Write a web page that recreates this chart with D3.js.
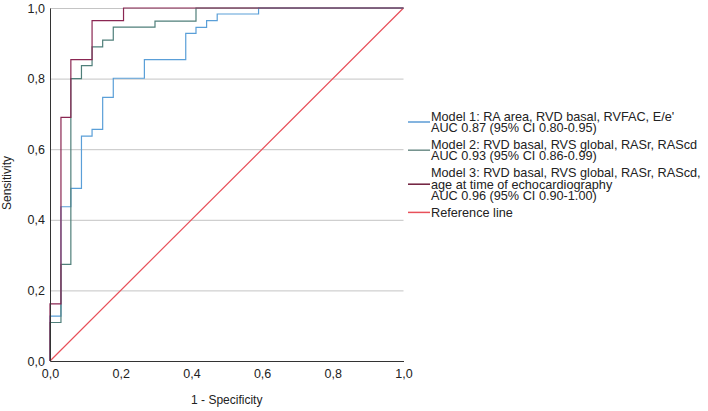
<!DOCTYPE html>
<html>
<head>
<meta charset="utf-8">
<script src="https://cdn.jsdelivr.net/npm/d3@7"></script>
<style>
  body { margin: 0; background: #fff; }
  text { font-family: "Liberation Sans", Arial, sans-serif; fill: #222; }
</style>
</head>
<body>
<svg width="708" height="411"></svg>
<script>
// ROC step points (1 - specificity, sensitivity)
const model1Fpr = [0, 0.031, 0.059, 0.089, 0.119, 0.149, 0.179, 0.267, 0.384, 0.413, 0.443, 0.473, 0.590, 1];
const model1Tpr = [0, 0.127, 0.437, 0.489, 0.637, 0.656, 0.747, 0.801, 0.854, 0.928, 0.945, 0.964, 0.983, 1];

const model2Fpr = [0, 0.031, 0.059, 0.089, 0.119, 0.149, 0.179, 0.297, 0.413, 1];
const model2Tpr = [0, 0.109, 0.274, 0.800, 0.837, 0.890, 0.909, 0.946, 0.963, 1];

const model3Fpr = [0, 0.031, 0.059, 0.119, 0.208, 1];
const model3Tpr = [0, 0.162, 0.690, 0.854, 0.964, 1];

const refFpr = [0, 1];
const refTpr = [0, 1];

const tickValues = [0, 0.2, 0.4, 0.6, 0.8, 1.0];

const legendLabels = [
    ["Model 1: RA area, RVD basal, RVFAC, E/e'", "AUC 0.87 (95% CI 0.80-0.95)"],
    ["Model 2: RVD basal, RVS global, RASr, RAScd", "AUC 0.93 (95% CI 0.86-0.99)"],
    ["Model 3: RVD basal, RVS global, RASr, RAScd,", "age at time of echocardiography", "AUC 0.96 (95% CI 0.90-1.00)"],
    ["Reference line"]
];

const series = [
    { fpr: model1Fpr, tpr: model1Tpr, color: "#5a9fd8", legend: "#5b9bd5" },
    { fpr: model2Fpr, tpr: model2Tpr, color: "#4f7f7a", legend: "#6f8f8a" },
    { fpr: model3Fpr, tpr: model3Tpr, color: "#8a2652", legend: "#6e1c3a" },
    { fpr: refFpr, tpr: refTpr, color: "#e8505a", legend: "#e8505a", straight: true }
];

const svg = d3.select("svg");

const x = d3.scaleLinear().domain([0, 1]).range([50, 403.5]);
const y = d3.scaleLinear().domain([0, 1]).range([361, 8]);

const locale = d3.formatLocale({ decimal: ",", thousands: ".", grouping: [3], currency: ["", ""] });
const fmt = locale.format(".1f");

// grid
svg.append("g")
    .attr("transform", `translate(${x(0)},0)`)
    .call(d3.axisLeft(y).tickValues(tickValues.slice(1)).tickSize(-(x(1) - x(0))).tickFormat(""))
    .call(g => g.select(".domain").remove())
    .call(g => g.selectAll("line").attr("stroke", "#c4c4c4"));

// curves
const line = d3.line().x(d => x(d[0])).y(d => y(d[1]));
const stepLine = d3.line().x(d => x(d[0])).y(d => y(d[1])).curve(d3.curveStepBefore);

const drawOrder = [3, 0, 1, 2];
drawOrder.forEach(i => {
    const s = series[i];
    const pts = d3.zip(s.fpr, s.tpr);
    svg.append("path")
        .attr("fill", "none")
        .attr("stroke", s.color)
        .attr("stroke-width", 1.2)
        .attr("d", (s.straight ? line : stepLine)(pts));
});

// axes
svg.append("g")
    .attr("transform", `translate(${x(0)},0)`)
    .call(d3.axisLeft(y).tickValues(tickValues).tickSize(0).tickPadding(5).tickFormat(fmt))
    .call(g => g.select(".domain").attr("stroke", "#333"))
    .call(g => g.selectAll("text").attr("font-size", 12.5).attr("fill", "#222"));

svg.append("g")
    .attr("transform", `translate(0,${y(0)})`)
    .call(d3.axisBottom(x).tickValues(tickValues).tickSize(0).tickPadding(8).tickFormat(fmt))
    .call(g => g.select(".domain").attr("stroke", "#333"))
    .call(g => g.selectAll("text").attr("font-size", 12.5).attr("fill", "#222"));

svg.selectAll(".tick text").attr("font-family", "Liberation Sans, Arial, sans-serif");

// axis titles
svg.append("text")
    .attr("x", (x(0) + x(1)) / 2)
    .attr("y", 404)
    .attr("text-anchor", "middle")
    .attr("font-size", 12)
    .text("1 - Specificity");

svg.append("text")
    .attr("transform", "translate(11,183) rotate(-90)")
    .attr("text-anchor", "middle")
    .attr("font-size", 12)
    .text("Sensitivity");

// legend
const lineH = 11.6, gap = 5;
let entryTop = 110.4;
const legend = svg.append("g");
legendLabels.forEach((lines, i) => {
    const h = lines.length * lineH;
    const cy = entryTop + h / 2;
    legend.append("line")
        .attr("x1", 408).attr("x2", 430)
        .attr("y1", cy).attr("y2", cy)
        .attr("stroke", series[i].legend)
        .attr("stroke-width", 1.5);
    lines.forEach((t, j) => {
        legend.append("text")
            .attr("x", 431)
            .attr("y", entryTop + j * lineH + lineH / 2)
            .attr("dy", "0.35em")
            .attr("font-size", 12.7)
            .text(t);
    });
    entryTop += h + gap;
});
</script>
</body>
</html>
